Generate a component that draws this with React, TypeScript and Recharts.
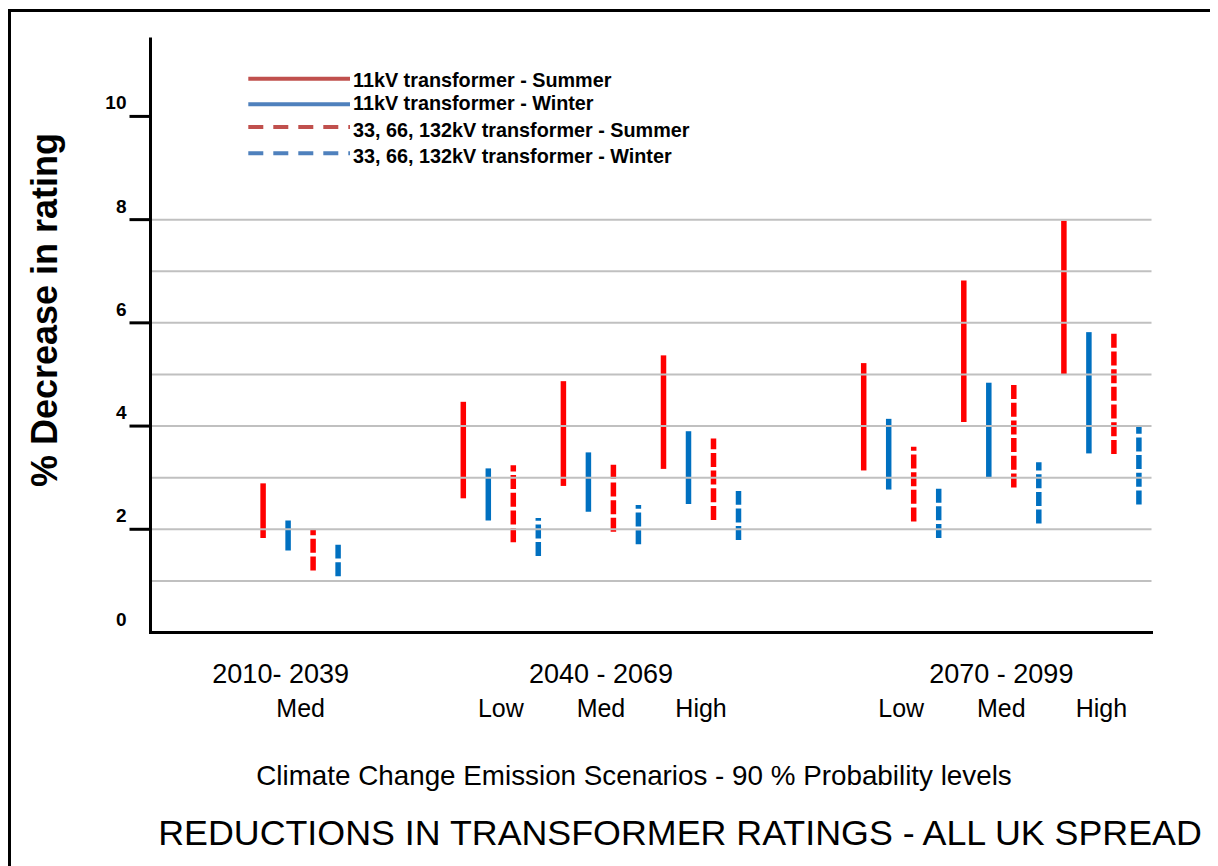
import { BarChart, Bar, XAxis, YAxis, ReferenceLine, Legend } from 'recharts'

// category slots (empty ones keep the gaps between periods)
const slots = ['s0', 's1', 's2', 's3', 's4', 's5', 's6', 's7', 's8', 's9']
const scenarios = ['', 'Med', '', 'Low', 'Med', 'High', '', 'Low', 'Med', 'High']
const periods = ['', '2010- 2039', '', '', '2040 - 2069', '', '', '', '2070 - 2099', '']

const yTicks = [0, 2, 4, 6, 8, 10]
const gridValues = [1, 2, 3, 4, 5, 6, 7, 8]

// % decrease ranges (low / high end of each line)
const summer11Low = [null, 1.83, null, 2.6, 2.84, 3.17, null, 3.14, 4.08, 4.99]
const summer11High = [null, 2.89, null, 4.47, 4.87, 5.37, null, 5.22, 6.82, 7.98]
const winter11Low = [null, 1.59, null, 2.17, 2.34, 2.49, null, 2.77, 2.99, 3.47]
const winter11High = [null, 2.17, null, 3.18, 3.49, 3.9, null, 4.14, 4.84, 5.82]
const summerHvLow = [null, 1.2, null, 1.75, 1.95, 2.18, null, 2.15, 2.81, 3.46]
const summerHvHigh = [null, 2.0, null, 3.24, 3.26, 3.76, null, 3.6, 4.81, 5.8]
const winterHvLow = [null, 1.09, null, 1.48, 1.71, 1.79, null, 1.83, 2.11, 2.48]
const winterHvHigh = [null, 1.7, null, 2.22, 2.47, 2.74, null, 2.79, 3.3, 3.98]

interface SeriesDef {
  key: string
  name: string
  color: string
  legendColor: string
  dashed: boolean
  low: (number | null)[]
  high: (number | null)[]
}

const SERIES: SeriesDef[] = [
  { key: 'summer11', name: '11kV transformer - Summer', color: '#ff0000', legendColor: '#c0504d', dashed: false, low: summer11Low, high: summer11High },
  { key: 'winter11', name: '11kV transformer - Winter', color: '#0070c0', legendColor: '#4f81bd', dashed: false, low: winter11Low, high: winter11High },
  { key: 'summerHv', name: '33, 66, 132kV transformer - Summer', color: '#ff0000', legendColor: '#c0504d', dashed: true, low: summerHvLow, high: summerHvHigh },
  { key: 'winterHv', name: '33, 66, 132kV transformer - Winter', color: '#0070c0', legendColor: '#4f81bd', dashed: true, low: winterHvLow, high: winterHvHigh },
]

const chartData = slots.map((slot, i) => {
  const row: Record<string, unknown> = { slot }
  SERIES.forEach(s => {
    const lo = s.low[i]
    const hi = s.high[i]
    row[s.key] = lo == null || hi == null ? null : [lo, hi]
  })
  return row
})

const FONT = '"Liberation Sans", Arial, sans-serif'
const W = 1210
const H = 858
const PLOT_LEFT = 142.5

const RangeLine = (props: any) => {
  const { x, y, width, height, color, dashed } = props
  if (![x, y, width, height].every(v => typeof v === 'number' && isFinite(v)) || !height) return null
  const cx = x + width / 2
  const top = Math.min(y, y + height)
  const bottom = Math.max(y, y + height)
  // dashes start from the bottom end, as in the original
  return (
    <line
      x1={cx}
      x2={cx}
      y1={bottom}
      y2={top}
      stroke={color}
      strokeWidth={5.5}
      strokeDasharray={dashed ? '14 3.7' : undefined}
    />
  )
}

const YTick = (props: any) => {
  const { y, payload } = props
  const v = payload?.value
  return (
    <g>
      {v !== 0 && (
        <line x1={PLOT_LEFT - 21} x2={PLOT_LEFT} y1={y} y2={y} stroke="#000" strokeWidth={3} />
      )}
      <text
        x={PLOT_LEFT - 24}
        y={y - 14 + 7}
        textAnchor="end"
        fontFamily={FONT}
        fontWeight="bold"
        fontSize={19}
        fill="#000"
      >
        {v}
      </text>
    </g>
  )
}

const PERIOD_NUDGE: Record<number, number> = { 1: -20 }

const XTick = (props: any) => {
  const { x, payload } = props
  const i = props.index ?? payload?.index ?? 0
  return (
    <g>
      {periods[i] && (
        <text x={x + (PERIOD_NUDGE[i] || 0)} y={675} textAnchor="middle" fontFamily={FONT} fontSize={27} fill="#000">
          {periods[i]}
        </text>
      )}
      {scenarios[i] && (
        <text x={x} y={709} textAnchor="middle" fontFamily={FONT} fontSize={25} fill="#000">
          {scenarios[i]}
        </text>
      )}
    </g>
  )
}

const LEGEND_LINE_Y = [18.7, 44.3, 67, 93.3]
const LEGEND_TEXT_Y = [26.7, 50, 77, 103]

const LegendBox = () => (
  <svg width={480} height={110} style={{ display: 'block' }}>
    {SERIES.map((s, i) => (
      <g key={s.key}>
        <line
          x1={8.3}
          x2={110}
          y1={LEGEND_LINE_Y[i]}
          y2={LEGEND_LINE_Y[i]}
          stroke={s.legendColor}
          strokeWidth={4}
          strokeDasharray={s.dashed ? '15 10' : undefined}
        />
        <text x={113} y={LEGEND_TEXT_Y[i]} fontFamily={FONT} fontWeight="bold" fontSize={19.8} fill="#000">
          {s.name}
        </text>
      </g>
    ))}
  </svg>
)

export default function App() {
  return (
    <div style={{ position: 'relative', width: W, height: H, background: '#fff' }}>
      <style>{'html, body { overflow: hidden; }'}</style>
      <div style={{ position: 'absolute', left: 0, top: 1, width: W, height: 3, background: '#000' }} />
      <div style={{ position: 'absolute', left: 0, top: 1, width: 3, height: H - 1, background: '#000' }} />
      <div style={{ position: 'absolute', left: 0, top: 0 }}>
        <BarChart
          width={W}
          height={H}
          data={chartData}
          margin={{ top: 31, right: 66.5, bottom: 133.5, left: 62.5 }}
          barGap={0}
          barCategoryGap={0}
        >
          {gridValues.map(v => (
            <ReferenceLine key={v} y={v} stroke="#c0c0c0" strokeWidth={2} />
          ))}
          <XAxis
            dataKey="slot"
            interval={0}
            height={100}
            tickLine={false}
            axisLine={{ stroke: '#000', strokeWidth: 3, strokeLinecap: 'square' }}
            tick={XTick}
          />
          <YAxis
            type="number"
            domain={[0, 11.5]}
            ticks={yTicks}
            interval={0}
            width={80}
            allowDataOverflow
            tickLine={false}
            axisLine={{ stroke: '#000', strokeWidth: 3, strokeLinecap: 'square' }}
            tick={YTick}
          />
          <Legend
            layout="vertical"
            align="center"
            verticalAlign="middle"
            content={() => <LegendBox />}
            wrapperStyle={{ left: 232, top: 52, width: 480 }}
          />
          {SERIES.map(s => (
            <Bar
              key={s.key}
              dataKey={s.key}
              name={s.name}
              barSize={25}
              fill={s.color}
              isAnimationActive={false}
              shape={(p: any) => <RangeLine {...p} color={s.color} dashed={s.dashed} />}
            />
          ))}
        </BarChart>
      </div>
      <svg
        width={W}
        height={H}
        style={{ position: 'absolute', left: 0, top: 0, pointerEvents: 'none' }}
      >
        <text
          x={49}
          y={302}
          transform="rotate(-90, 49, 302)"
          textAnchor="middle"
          fontFamily={FONT}
          fontWeight="bold"
          fontSize={36}
          fill="#000"
        >
          % Decrease in rating
        </text>
        <text x={626} y={777} textAnchor="middle" fontFamily={FONT} fontSize={27.8} fill="#000">
          Climate Change Emission Scenarios - 90 % Probability levels
        </text>
        <text x={672} y={837} textAnchor="middle" fontFamily={FONT} fontSize={35.8} fill="#000">
          REDUCTIONS IN TRANSFORMER RATINGS - ALL UK SPREAD
        </text>
      </svg>
    </div>
  )
}
